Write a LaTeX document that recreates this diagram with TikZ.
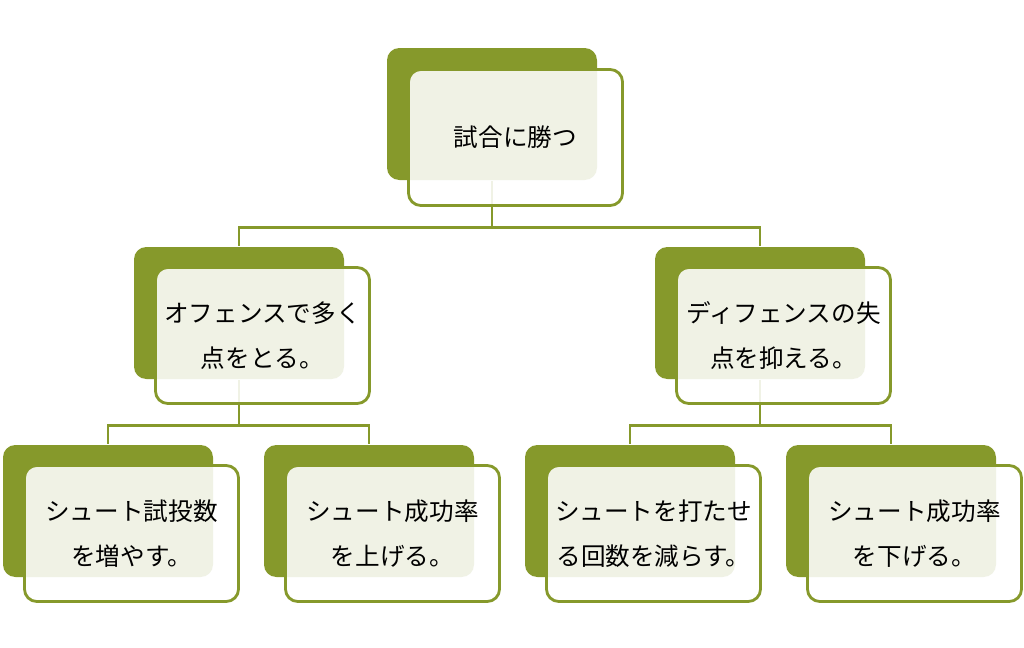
\documentclass[tikz,border=0pt]{standalone}
\usepackage{fontspec}
\newfontfamily\jp{Noto Sans CJK JP}
\usepackage{xcolor}
\definecolor{leafgreen}{HTML}{86992B}

\begin{document}
\begin{tikzpicture}[line width=1.6pt,
  back/.style={fill=leafgreen, rounded corners=7pt, minimum width=4.2cm, minimum height=2.64cm, inner sep=0pt},
  card/.style={draw=leafgreen, fill=white, fill opacity=0.88, text opacity=1, rounded corners=7pt,
    minimum width=4.28cm, minimum height=2.72cm, inner sep=0pt, align=center, text=black,
    font=\jp\fontsize{14}{25.5}\selectfont},
  link/.style={draw=leafgreen}]
\useasboundingbox (0,0) rectangle (20.48,-12.96);
%%%%% Green backs %%%%%
\node[back] (gtop) at (9.84,-2.28) {};
\node[back] (gleft) at (4.78,-6.26) {};
\node[back] (gright) at (15.20,-6.26) {};
\node[back] (gone) at (2.16,-10.22) {};
\node[back] (gtwo) at (7.38,-10.22) {};
\node[back] (gthree) at (12.60,-10.22) {};
\node[back] (gfour) at (17.82,-10.22) {};
%%%%% Links %%%%%
\draw[link] (gtop.south) -- ++(0,-0.92) coordinate (jtop) -| (gleft.north);
\draw[link] (jtop) -| (gright.north);
\draw[link] (gleft.south) -- ++(0,-0.9) coordinate (jleft) -| (gone.north);
\draw[link] (jleft) -| (gtwo.north);
\draw[link] (gright.south) -- ++(0,-0.9) coordinate (jright) -| (gthree.north);
\draw[link] (jright) -| (gfour.north);
%%%%% Cards %%%%%
\node[card] (ftop) at ([shift={(0.47,-0.47)}]gtop) {試合に勝つ};
\node[card] (fleft) at ([shift={(0.47,-0.45)}]gleft) {オフェンスで多く\\点をとる。};
\node[card] (fright) at ([shift={(0.47,-0.45)}]gright) {ディフェンスの失\\点を抑える。};
\node[card] (fone) at ([shift={(0.47,-0.45)}]gone) {シュート試投数\\を増やす。};
\node[card] (ftwo) at ([shift={(0.47,-0.45)}]gtwo) {シュート成功率\\を上げる。};
\node[card] (fthree) at ([shift={(0.47,-0.45)}]gthree) {シュートを打たせ\\る回数を減らす。};
\node[card] (ffour) at ([shift={(0.47,-0.45)}]gfour) {シュート成功率\\を下げる。};
% \draw[help lines] (0,0) grid (20,-12);
\end{tikzpicture}
\end{document}
